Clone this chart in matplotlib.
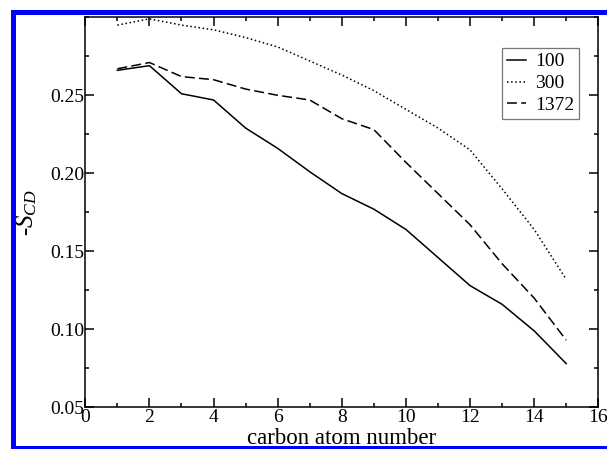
import matplotlib
matplotlib.use('Agg')
import matplotlib.pyplot as plt
from matplotlib.patches import Rectangle
from matplotlib.ticker import MultipleLocator

# carbon atom positions along the chain
carbon = [1, 2, 3, 4, 5, 6, 7, 8, 9, 10, 11, 12, 13, 14, 15]

# order parameters -S_CD for each run
scd_100 = [0.266, 0.269, 0.251, 0.247, 0.229, 0.216, 0.201, 0.187,
           0.177, 0.164, 0.146, 0.128, 0.116, 0.099, 0.078]
scd_300 = [0.295, 0.299, 0.295, 0.292, 0.287, 0.281, 0.272, 0.263,
           0.253, 0.241, 0.229, 0.215, 0.190, 0.164, 0.132]
scd_1372 = [0.267, 0.271, 0.262, 0.260, 0.254, 0.250, 0.247, 0.235,
            0.228, 0.207, 0.187, 0.167, 0.142, 0.120, 0.093]

labels = ['100', '300', '1372']

plt.rcParams['font.family'] = ['Liberation Serif', 'DejaVu Serif']
plt.rcParams['mathtext.fontset'] = 'custom'
plt.rcParams['mathtext.rm'] = 'Liberation Serif'
plt.rcParams['mathtext.it'] = 'Liberation Serif:italic'

W, H = 607, 449
fig = plt.figure(figsize=(W / 100, H / 100), dpi=100)
ax = fig.add_axes([85.3 / W, 1 - 407.3 / H, (598.3 - 85.3) / W, (407.3 - 17.3) / H])

lw = 1.1
ax.plot(carbon, scd_100, color='black', lw=lw, linestyle='-', label=labels[0])
ax.plot(carbon, scd_300, color='black', lw=lw, linestyle=(0, (1, 1.7)), label=labels[1])
ax.plot(carbon, scd_1372, color='black', lw=lw, linestyle=(0, (6.5, 2.8)), label=labels[2])

ax.set_xlim(0, 16)
ax.set_ylim(0.05, 0.30)
ax.set_xticks([0, 2, 4, 6, 8, 10, 12, 14, 16])
ax.set_yticks([0.05, 0.10, 0.15, 0.20, 0.25])
ax.set_yticklabels(['0.05', '0.10', '0.15', '0.20', '0.25'])
ax.xaxis.set_minor_locator(MultipleLocator(1))
ax.yaxis.set_minor_locator(MultipleLocator(0.025))

ax.tick_params(which='both', direction='in', top=True, right=True, width=1.1, color='black')
ax.tick_params(which='major', length=6.5)
ax.tick_params(which='minor', length=3)
ax.tick_params(axis='x', labelsize=14, pad=1)
ax.tick_params(axis='y', labelsize=14, pad=1)
for s in ax.spines.values():
    s.set_linewidth(1.1)

ax.set_xlabel('carbon atom number', fontsize=16.5, labelpad=2)
ax.set_ylabel(r'-$S_{CD}$', fontsize=18, labelpad=8)

leg = ax.legend(loc='upper left', bbox_to_anchor=(502 / W, 1 - 48 / H),
                bbox_transform=fig.transFigure, fontsize=14, frameon=True,
                fancybox=False, borderaxespad=0, borderpad=0.25,
                handlelength=1.0, handletextpad=0.45, labelspacing=0.22)
leg.get_frame().set_edgecolor('#555555')
leg.get_frame().set_linewidth(0.9)

# blue frame around the picture (cut off at the right edge)
blue = '#0000ff'
def px_rect(x0, y0, x1, y1):
    fig.add_artist(Rectangle((x0 / W, 1 - y1 / H), (x1 - x0) / W, (y1 - y0) / H,
                             transform=fig.transFigure, color=blue, lw=0, zorder=10))

px_rect(11, 10, 16, 449)
px_rect(11, 10, 607, 15)
px_rect(11, 445.5, 607, 449)

fig.savefig('out.png', dpi=100)
